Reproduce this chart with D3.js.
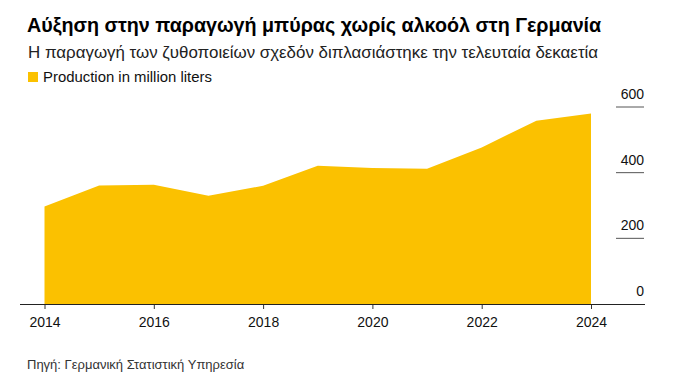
<!DOCTYPE html>
<html><head><meta charset="utf-8">
<script src="https://cdn.jsdelivr.net/npm/d3@7"></script>
<style>body{margin:0;background:#fff;} text{font-family:"Liberation Sans",Arial,sans-serif;}</style>
</head><body>
<svg id="c" width="694" height="389"></svg>
<script>
const years = [2014,2015,2016,2017,2018,2019,2020,2021,2022,2023,2024];
const production = [297,361,363,330,360,421,414,412,477,558,580];
const yTicks = [0,200,400,600];
const xTicks = [2014,2016,2018,2020,2022,2024];
const title = "Αύξηση στην παραγωγή μπύρας χωρίς αλκοόλ στη Γερμανία";
const subtitle = "Η παραγωγή των ζυθοποιείων σχεδόν διπλασιάστηκε την τελευταία δεκαετία";
const legendLabel = "Production in million liters";
const source = "Πηγή: Γερμανική Στατιστική Υπηρεσία";

const svg = d3.select("#c");
const x = d3.scaleLinear().domain([2014,2024]).range([44.5,591]);
const y = d3.scaleLinear().domain([0,600]).range([304,107]);

svg.append("text").attr("x",27).attr("y",32).attr("font-size",19.7).attr("font-weight","bold").attr("fill","#000").text(title);
svg.append("text").attr("x",28).attr("y",58).attr("font-size",16.9).attr("fill","#222").text(subtitle);
svg.append("rect").attr("x",28).attr("y",72).attr("width",10).attr("height",10).attr("fill","#FBC100");
svg.append("text").attr("x",43).attr("y",82).attr("font-size",14.9).attr("fill","#111").text(legendLabel);

const area = d3.area().x((d,i)=>x(years[i])).y0(y(0)).y1(d=>y(d));
svg.append("path").datum(production).attr("d",area).attr("fill","#FBC100");

// y gridlines (short segments at right) and labels
const yg = svg.append("g");
yTicks.filter(t=>t>0).forEach(t=>{
  yg.append("line").attr("x1",616).attr("x2",644).attr("y1",y(t)).attr("y2",y(t)).attr("stroke","#555").attr("stroke-width",1);
});
yTicks.forEach(t=>{
  yg.append("text").attr("x",644).attr("y",y(t)-8).attr("text-anchor","end").attr("font-size",14).attr("fill","#111").text(t);
});

// x axis
const xa = svg.append("g").attr("transform",`translate(0,${y(0)})`)
  .call(d3.axisBottom(x).tickValues(xTicks).tickFormat(d3.format("d")).tickSize(5).tickPadding(8));
xa.select(".domain").remove();
xa.selectAll("line").attr("stroke","#333");
xa.selectAll("text").attr("font-size",14).attr("fill","#111").style("font-family","Liberation Sans, Arial, sans-serif");
svg.append("line").attr("x1",20).attr("x2",645).attr("y1",y(0)+0.5).attr("y2",y(0)+0.5).attr("stroke","#222").attr("stroke-width",1);

svg.append("text").attr("x",27).attr("y",369).attr("font-size",13).attr("fill","#333").text(source);
</script>
</body></html>
